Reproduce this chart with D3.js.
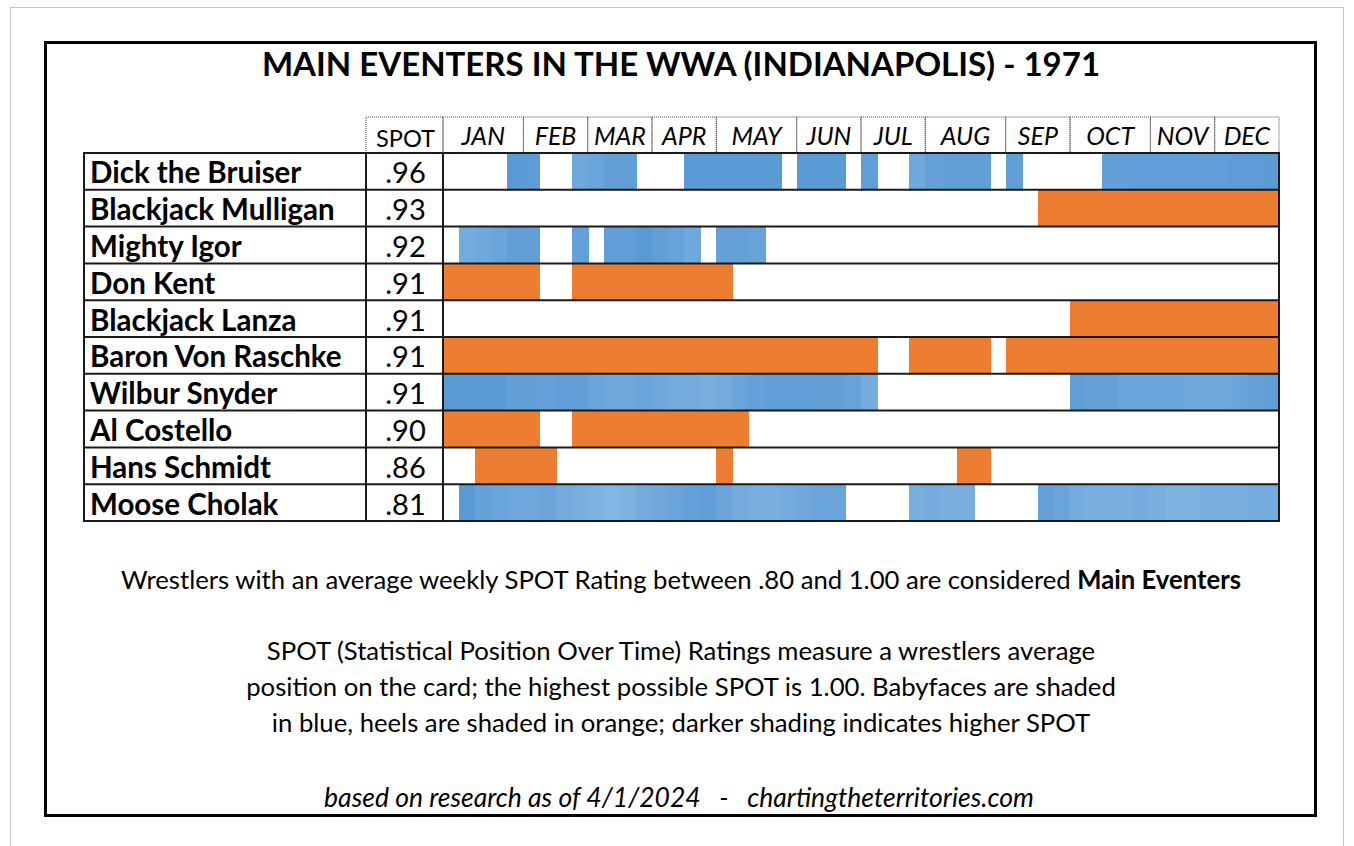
<!DOCTYPE html>
<html>
<head>
<meta charset="utf-8">
<script src="https://cdn.jsdelivr.net/npm/d3@7"></script>
<style>
  html, body { margin: 0; padding: 0; background: #fff; }
  svg { display: block; }
  text { font-family: Lato, "Open Sans", sans-serif; fill: #000; }
</style>
</head>
<body>
<svg id="chart" width="1354" height="846"></svg>
<script>
// ---------------- DATA ----------------
const title = "MAIN EVENTERS IN THE WWA (INDIANAPOLIS) - 1971";
const wrestlers = ["Dick the Bruiser", "Blackjack Mulligan", "Mighty Igor", "Don Kent", "Blackjack Lanza",
                   "Baron Von Raschke", "Wilbur Snyder", "Al Costello", "Hans Schmidt", "Moose Cholak"];
const spotRatings = [".96", ".93", ".92", ".91", ".91", ".91", ".91", ".90", ".86", ".81"];
const roles = ["face", "heel", "face", "heel", "heel", "heel", "face", "heel", "heel", "face"];
const months = ["JAN", "FEB", "MAR", "APR", "MAY", "JUN", "JUL", "AUG", "SEP", "OCT", "NOV", "DEC"];
const weeksPerMonth = [5, 4, 4, 4, 5, 4, 4, 5, 4, 5, 4, 4];
const _ = null;
// weekly SPOT values (52 weeks), null = not on card
const dickTheBruiser = [_,_,_,_,.98,.97,_,_,.90,.92,.95,.95,_,_,_,.98,.98,.98,.98,.98,.98,_,.98,.98,.98,_,.96,_,_,.90,.94,.95,.95,.95,_,.95,_,_,_,_,_,.95,.95,.96,.96,.96,.96,.96,.96,.97,.97,.98];
const blackjackMulligan = [_,_,_,_,_,_,_,_,_,_,_,_,_,_,_,_,_,_,_,_,_,_,_,_,_,_,_,_,_,_,_,_,_,_,_,_,_,1,1,1,1,1,1,1,1,1,1,1,1,1,1,1];
const mightyIgor = [_,.88,.90,.92,.95,.95,_,_,.94,_,.95,.96,.98,.95,.93,.90,_,.94,.94,.93,_,_,_,_,_,_,_,_,_,_,_,_,_,_,_,_,_,_,_,_,_,_,_,_,_,_,_,_,_,_,_,_];
const donKent = [1,1,1,1,1,1,_,_,1,1,1,1,1,1,1,1,1,1,_,_,_,_,_,_,_,_,_,_,_,_,_,_,_,_,_,_,_,_,_,_,_,_,_,_,_,_,_,_,_,_,_,_];
const blackjackLanza = [_,_,_,_,_,_,_,_,_,_,_,_,_,_,_,_,_,_,_,_,_,_,_,_,_,_,_,_,_,_,_,_,_,_,_,_,_,_,_,1,1,1,1,1,1,1,1,1,1,1,1,1];
const baronVonRaschke = [1,1,1,1,1,1,1,1,1,1,1,1,1,1,1,1,1,1,1,1,1,1,1,1,1,1,1,_,_,1,1,1,1,1,_,1,1,1,1,1,1,1,1,1,1,1,1,1,1,1,1,1];
const wilburSnyder = [.98,.98,.98,.98,.95,.95,.94,.96,.96,.92,.90,.90,.92,.90,.88,.88,.86,.88,.92,.94,.96,.96,.96,.95,.95,.93,.88,_,_,_,_,_,_,_,_,_,_,_,_,.96,.94,.94,.92,.92,.92,.92,.90,.90,.90,.92,.94,.96];
const alCostello = [1,1,1,1,1,1,_,_,1,1,1,1,1,1,1,1,1,1,1,_,_,_,_,_,_,_,_,_,_,_,_,_,_,_,_,_,_,_,_,_,_,_,_,_,_,_,_,_,_,_,_,_];
const hansSchmidt = [_,_,1,1,1,1,1,_,_,_,_,_,_,_,_,_,_,1,_,_,_,_,_,_,_,_,_,_,_,_,_,_,1,1,_,_,_,_,_,_,_,_,_,_,_,_,_,_,_,_,_,_];
const mooseCholak = [_,.98,.94,.92,.90,.90,.92,.88,.86,.84,.82,.84,.88,.90,.92,.94,.96,.92,.88,.86,.86,.88,.90,.92,.92,_,_,_,_,.86,.88,.86,.86,_,_,_,_,.94,.92,.88,.86,.86,.86,.88,.86,.84,.84,.86,.86,.86,.88,.88];
const weekly = [dickTheBruiser, blackjackMulligan, mightyIgor, donKent, blackjackLanza,
                baronVonRaschke, wilburSnyder, alCostello, hansSchmidt, mooseCholak];
const noteLines = [
  "SPOT (Statistical Position Over Time) Ratings measure a wrestlers average",
  "position on the card; the highest possible SPOT is 1.00. Babyfaces are shaded",
  "in blue, heels are shaded in orange; darker shading indicates higher SPOT"
];
const footer = "based on research as of 4/1/2024   -   chartingtheterritories.com";

// ---------------- LAYOUT ----------------
const svg = d3.select("#chart");
const nameX0 = 84, spotX0 = 366, gridX0 = 443, gridX1 = 1279;
const headerY0 = 117, rowsY0 = 153, rowsY1 = 521;

const x = d3.scaleLinear().domain([0, 52]).range([gridX0, gridX1]);
const y = d3.scaleBand().domain(wrestlers).range([rowsY0, rowsY1]);
const faceColor = d3.scaleLinear().domain([0.82, 0.98]).range(["#83B6E2", "#5A9AD5"]).clamp(true);
const heelColor = d3.scaleLinear().domain([0.82, 1.0]).range(["#F2A36E", "#ED7D31"]).clamp(true);

// outer dotted page border
svg.append("rect").attr("x", 10.5).attr("y", 7.5).attr("width", 1333).attr("height", 860)
  .attr("fill", "none").attr("stroke", "#888").attr("stroke-width", 1).attr("stroke-dasharray", "1,1");
// inner frame
svg.append("rect").attr("x", 45.5).attr("y", 42.5).attr("width", 1270).attr("height", 773)
  .attr("fill", "#fff").attr("stroke", "#000").attr("stroke-width", 3);

// title
svg.append("text").attr("x", 681).attr("y", 76).attr("text-anchor", "middle")
  .style("font-weight", 700).style("font-size", "33px").text(title);

// header cells (dotted)
const monthStarts = [];
weeksPerMonth.reduce((acc, n) => { monthStarts.push(acc); return acc + n; }, 0);
const hdr = svg.append("g");
hdr.append("rect").attr("x", spotX0).attr("y", headerY0).attr("width", gridX0 - spotX0).attr("height", rowsY0 - headerY0)
  .attr("fill", "none").attr("stroke", "#444").attr("stroke-dasharray", "1,1");
hdr.append("text").attr("x", (spotX0 + gridX0) / 2 + 1).attr("y", 147).attr("text-anchor", "middle")
  .style("font-size", "23.5px").text("SPOT");
months.forEach((m, i) => {
  const a = x(monthStarts[i]), b = x(monthStarts[i] + weeksPerMonth[i]);
  hdr.append("rect").attr("x", a).attr("y", headerY0).attr("width", b - a).attr("height", rowsY0 - headerY0)
    .attr("fill", "none").attr("stroke", "#444").attr("stroke-dasharray", "1,1");
  hdr.append("text").attr("x", (a + b) / 2).attr("y", 144.5).attr("text-anchor", "middle")
    .style("font-size", "25px").style("font-style", "italic").text(m);
});

// bars
const cells = [];
weekly.forEach((arr, r) => arr.forEach((v, w) => { if (v !== null) cells.push({ r, w, v }); }));
svg.append("g").attr("shape-rendering", "crispEdges").selectAll("rect").data(cells).join("rect")
  .attr("x", d => x(d.w))
  .attr("width", d => x(d.w + 1) - x(d.w) + 1)
  .attr("y", d => y(wrestlers[d.r]))
  .attr("height", y.bandwidth())
  .attr("fill", d => roles[d.r] === "face" ? faceColor(d.v) : heelColor(d.v));

// grid lines
const grid = svg.append("g").attr("stroke", "#1a1a1a").attr("stroke-width", 2);
const bounds = wrestlers.map(w => y(w)).concat([rowsY1]);
bounds.forEach(b => grid.append("line").attr("x1", nameX0).attr("x2", gridX1 + 1).attr("y1", b).attr("y2", b));
[nameX0, spotX0, gridX0, gridX1].forEach(v => grid.append("line").attr("x1", v).attr("x2", v).attr("y1", rowsY0 - 1).attr("y2", rowsY1 + 1));

// names and spot values
svg.append("g").selectAll("text").data(wrestlers).join("text")
  .attr("x", 90).attr("y", d => y(d) + y.bandwidth() / 2 + 12)
  .style("font-weight", 700).style("font-size", "29.5px").text(d => d);
svg.append("g").selectAll("text").data(spotRatings).join("text")
  .attr("x", (spotX0 + gridX0) / 2 + 1).attr("y", (d, i) => y(wrestlers[i]) + y.bandwidth() / 2 + 12)
  .attr("text-anchor", "middle").style("font-size", "29px").text(d => d);

// notes
const t1 = svg.append("text").attr("x", 681).attr("y", 589).attr("text-anchor", "middle").style("font-size", "25.7px");
t1.append("tspan").text("Wrestlers with an average weekly SPOT Rating between .80 and 1.00 are considered ");
t1.append("tspan").style("font-weight", 700).text("Main Eventers");
noteLines.forEach((l, i) => {
  svg.append("text").attr("x", 681).attr("y", 660 + i * 35.8).attr("text-anchor", "middle")
    .style("font-size", "25.7px").text(l);
});
svg.append("text").attr("x", 679).attr("y", 807).attr("text-anchor", "middle")
  .style("font-size", "26.5px").style("font-style", "italic").style("white-space", "pre").text(footer);
</script>
</body>
</html>
